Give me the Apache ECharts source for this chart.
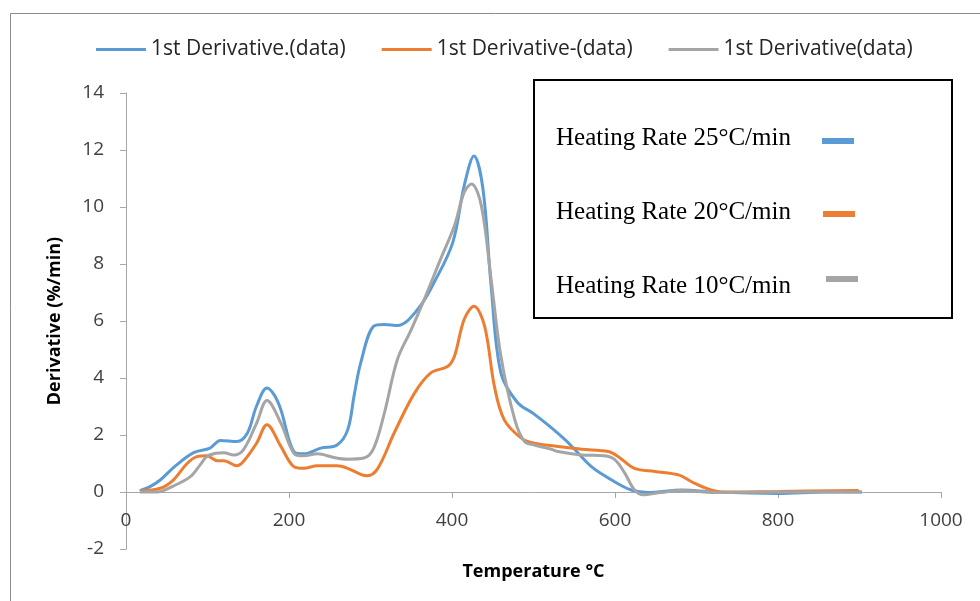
<!DOCTYPE html>
<html>
<head>
<meta charset="utf-8">
<script src="https://cdn.jsdelivr.net/npm/echarts@6/dist/echarts.min.js"></script>
<style>
  html, body { margin: 0; padding: 0; background: #fff; }
  #chart { width: 980px; height: 601px; }
</style>
</head>
<body>
<div id="chart"></div>
<script>
// legend labels of the three curves
const seriesNames = ["1st Derivative.(data)", "1st Derivative-(data)", "1st Derivative(data)"];
const seriesColors = ["#5B9BD5", "#ED7D31", "#A5A5A5"];
const boxLabels = ["Heating Rate 25°C/min", "Heating Rate 20°C/min", "Heating Rate 10°C/min"];

// 25 °C/min (blue)
const tempBlue = [17, 30, 42, 60, 83, 103, 116, 136, 149, 160, 173, 182, 190, 206, 218, 239, 259, 272, 280, 288, 304, 317, 333, 358, 378, 401, 415, 427, 438, 448, 460, 480, 500, 520, 540, 551, 571, 596, 620, 641, 682, 720, 800, 860, 903];
const derivBlue = [0.05, 0.2, 0.42, 0.9, 1.38, 1.54, 1.81, 1.77, 2.07, 3.0, 3.65, 3.4, 2.89, 1.42, 1.34, 1.54, 1.65, 2.18, 3.4, 4.53, 5.82, 5.88, 5.84, 6.41, 7.35, 8.76, 10.75, 11.79, 10.63, 7.23, 4.18, 3.15, 2.75, 2.3, 1.8, 1.48, 0.89, 0.42, 0.07, -0.02, 0.07, 0.0, -0.05, 0.0, 0.0];

// 20 °C/min (orange)
const tempOrange = [17, 42, 58, 75, 87, 99, 112, 120, 136, 144, 160, 173, 190, 206, 218, 235, 259, 272, 288, 296, 309, 329, 354, 374, 395, 403, 415, 427, 440, 452, 464, 485, 501, 530, 559, 592, 604, 624, 649, 678, 694, 715, 731, 800, 899];
const derivOrange = [0.03, 0.13, 0.42, 1.0, 1.24, 1.27, 1.1, 1.1, 0.92, 1.07, 1.7, 2.36, 1.6, 0.89, 0.83, 0.92, 0.92, 0.83, 0.62, 0.57, 0.83, 2.07, 3.47, 4.18, 4.41, 4.76, 6.06, 6.52, 5.82, 3.71, 2.54, 1.89, 1.71, 1.6, 1.5, 1.42, 1.24, 0.83, 0.72, 0.6, 0.36, 0.1, 0.0, 0.02, 0.05];

// 10 °C/min (gray)
const tempGray = [17, 38, 58, 79, 91, 99, 110, 120, 132, 144, 160, 173, 190, 206, 218, 235, 255, 272, 292, 304, 317, 333, 350, 366, 386, 403, 415, 424, 436, 448, 460, 477, 489, 501, 522, 530, 559, 587, 600, 612, 624, 635, 655, 682, 723, 800, 903];
const derivGray = [0, 0.0, 0.21, 0.54, 0.95, 1.24, 1.36, 1.38, 1.3, 1.48, 2.4, 3.21, 2.42, 1.36, 1.27, 1.34, 1.21, 1.15, 1.19, 1.54, 2.77, 4.65, 5.7, 6.76, 8.17, 9.34, 10.52, 10.81, 10.05, 7.46, 4.76, 2.54, 1.77, 1.65, 1.5, 1.42, 1.3, 1.27, 1.13, 0.66, 0.07, -0.1, -0.02, 0.05, -0.02, 0.0, 0.0];

const tempSets = [tempBlue, tempOrange, tempGray];
const derivSets = [derivBlue, derivOrange, derivGray];

function pairUp(xs, ys) {
  return xs.map((x, i) => [x, ys[i]]);
}

const axisFont = "'Open Sans', sans-serif";

function createLegendBox() {
  const rowsY = [138, 212, 286];
  const swatchX = [822, 823, 826];
  const swatchY = [138, 211, 276];
  const children = [
    {
      type: "rect",
      shape: { x: 534, y: 80, width: 418, height: 238 },
      style: { fill: "#fff", stroke: "#000", lineWidth: 2 }
    }
  ];
  boxLabels.forEach((label, i) => {
    children.push({
      type: "text",
      x: 556,
      y: rowsY[i],
      style: {
        text: label,
        font: "25px 'Liberation Serif', serif",
        fill: "#000",
        verticalAlign: "middle"
      }
    });
    children.push({
      type: "rect",
      shape: { x: swatchX[i], y: swatchY[i], width: 32, height: 6 },
      style: { fill: seriesColors[i] }
    });
  });
  return children;
}

const chart = echarts.init(document.getElementById("chart"), null, { renderer: "canvas" });

chart.setOption({
  backgroundColor: "#fff",
  animation: false,
  grid: { left: 126, right: 39, top: 93, bottom: 52, containLabel: false, outerBoundsMode: "none" },
  legend: {
    left: 91,
    top: 34,
    icon: "rect",
    itemWidth: 50,
    itemHeight: 3,
    itemGap: 36,
    textStyle: { fontFamily: axisFont, fontSize: 21, color: "#262626" },
    data: seriesNames
  },
  xAxis: {
    type: "value",
    min: 0,
    max: 1000,
    interval: 200,
    name: "Temperature °C",
    nameLocation: "middle",
    nameGap: 14,
    nameTextStyle: { fontFamily: axisFont, fontSize: 18, fontWeight: "bold", color: "#000" },
    axisLine: { onZero: true, lineStyle: { color: "#A6A6A6", width: 1 } },
    axisTick: { show: true, length: 6, lineStyle: { color: "#A6A6A6" } },
    axisLabel: { margin: -38, fontFamily: axisFont, fontSize: 19, color: "#404040", formatter: (v) => String(v) },
    splitLine: { show: false }
  },
  yAxis: {
    type: "value",
    min: -2,
    max: 14,
    interval: 2,
    name: "Derivative (%/min)",
    nameLocation: "middle",
    nameGap: 62,
    nameTextStyle: { fontFamily: axisFont, fontSize: 18, fontWeight: "bold", color: "#000" },
    axisLine: { show: true, lineStyle: { color: "#A6A6A6", width: 1 } },
    axisTick: { show: true, length: 6, lineStyle: { color: "#A6A6A6" } },
    axisLabel: { margin: 22, fontFamily: axisFont, fontSize: 19, color: "#404040", formatter: (v) => String(v) },
    splitLine: { show: false }
  },
  graphic: [
    {
      type: "rect",
      shape: { x: 10.5, y: 13.5, width: 1000, height: 700 },
      style: { fill: "none", stroke: "#8C8C8C", lineWidth: 1 },
      z: 0,
      silent: true
    },
    {
      type: "group",
      children: createLegendBox()
    }
  ],
  series: seriesNames.map((name, i) => ({
    name,
    type: "line",
    smooth: 0.35,
    showSymbol: false,
    lineStyle: { width: 3, color: seriesColors[i] },
    itemStyle: { color: seriesColors[i] },
    data: pairUp(tempSets[i], derivSets[i])
  }))
});
</script>
</body>
</html>
